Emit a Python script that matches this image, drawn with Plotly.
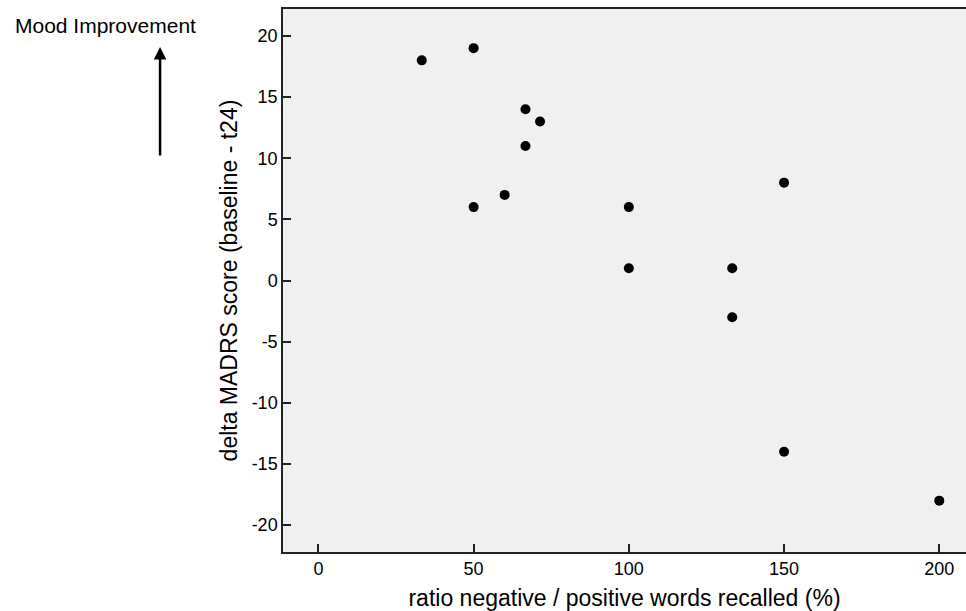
import plotly.graph_objects as go

# Data
ratio_pct = [33.3, 50, 50, 60, 66.7, 66.7, 71.4, 100, 100, 133.3, 133.3, 150, 150, 200]
delta_madrs = [18, 19, 6, 7, 14, 11, 13, 6, 1, 1, -3, 8, -14, -18]

x_ticks = [0, 50, 100, 150, 200]
y_ticks = [20, 15, 10, 5, 0, -5, -10, -15, -20]

FONT = "Liberation Sans, Arial, Helvetica, sans-serif"

fig = go.Figure()
fig.add_trace(go.Scatter(
    x=ratio_pct, y=delta_madrs, mode="markers",
    marker=dict(color="black", size=10),
    cliponaxis=False, showlegend=False,
))

axis_common = dict(
    showgrid=False, zeroline=False, showline=True, linecolor="#222",
    linewidth=1.5, ticks="inside", ticklen=8, tickwidth=1.5, tickcolor="#222",
    tickfont=dict(family=FONT, size=18, color="black"),
)

fig.update_layout(
    width=966, height=611,
    margin=dict(l=283, r=0, t=9, b=59),
    paper_bgcolor="white", plot_bgcolor="#f0f0f0",
    font=dict(family=FONT, color="black"),
    xaxis=dict(
        range=[-11.4, 208.6], tickvals=x_ticks,
        ticktext=[str(v) for v in x_ticks], mirror=True,
        title=dict(text="ratio negative / positive words recalled (%)",
                   font=dict(family=FONT, size=23, color="black"), standoff=16),
        **axis_common,
    ),
    yaxis=dict(
        range=[-22.2, 22.2], tickvals=y_ticks,
        ticktext=[str(v) for v in y_ticks], mirror=False,
        title=dict(text="delta MADRS score (baseline - t24)",
                   font=dict(family=FONT, size=23, color="black"), standoff=8),
        **axis_common,
    ),
    annotations=[
        dict(xref="paper", yref="paper", x=-0.2606, y=0.9705,
             text="Mood Improvement", showarrow=False,
             xanchor="center", yanchor="middle",
             font=dict(family=FONT, size=21, color="black")),
        dict(xref="paper", yref="paper", x=-0.18, y=0.93,
             text="", showarrow=True, ax=0, ay=110, axref="pixel", ayref="pixel",
             arrowhead=2, arrowsize=1, arrowwidth=2.5, arrowcolor="black"),
    ],
)

fig.write_html("out.html", config={"displayModeBar": False},
               post_script="document.body.style.margin='0';document.body.style.overflow='hidden';")
